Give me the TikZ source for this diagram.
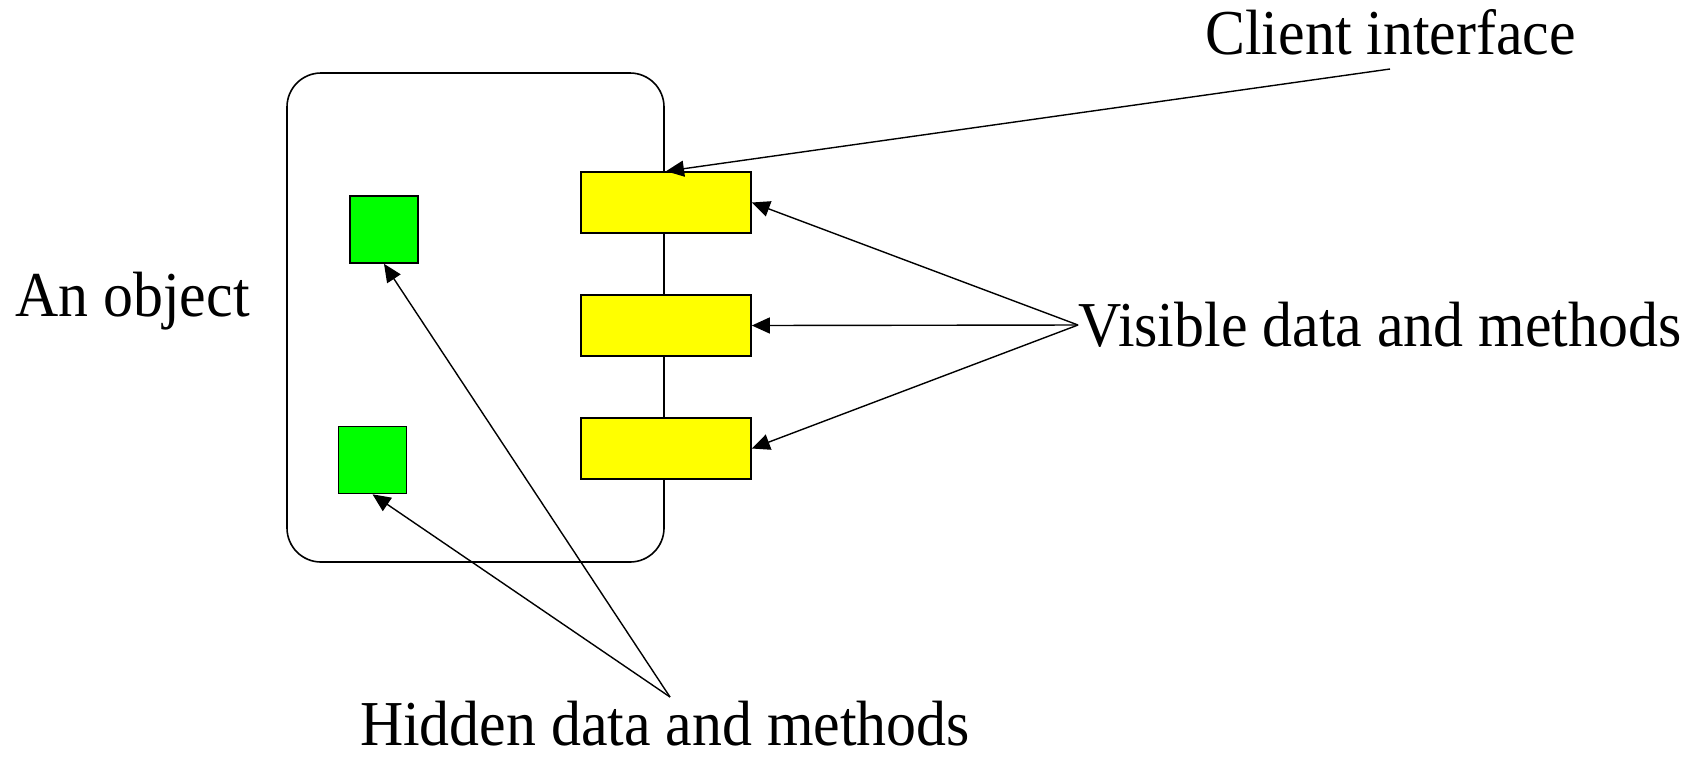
\documentclass[tikz,border=0pt]{standalone}
\usepackage{fontspec}
\setmainfont{Liberation Serif}
\newfontfamily\labelfont[FakeStretch=0.935]{Liberation Serif}
\usetikzlibrary{arrows.meta}
\definecolor{VisibleFill}{RGB}{255,255,0}
\definecolor{HiddenFill}{RGB}{0,255,0}
\tikzset{
    object box/.style={
        draw, rounded corners=17pt, line width=0.8pt, inner sep=0pt,
        minimum width=188.5pt, minimum height=244.5pt
    },
    hidden box/.style={
        draw, fill=HiddenFill, line width=0.8pt, inner sep=0pt,
        minimum width=34pt, minimum height=33.5pt
    },
    visible box/.style={
        draw, fill=VisibleFill, line width=0.8pt, inner sep=0pt,
        minimum width=85pt, minimum height=30.5pt
    },
    label text/.style={font=\labelfont\fontsize{32}{38}\selectfont, inner sep=0pt},
    pointer/.style={-{Triangle[length=9pt,width=8pt]}, line width=0.7pt},
}

\begin{document}
\begin{tikzpicture}[x=0.5pt, y=-0.5pt]

    \useasboundingbox (0,0) rectangle (1689,757);

    \node[object box] (obj) at (475.5,317.5) {};

    \node[hidden box] (g1) at (384,229.5) {};
    \node[hidden box] (g2) at (372.5,460) {};

    \node[visible box] (y1) at (666,202.5) {};
    \node[visible box] (y2) at (666,325.5) {};
    \node[visible box] (y3) at (666,448.5) {};

    \node[label text, anchor=base west] (objlabel) at (15,316) {An object};
    \node[label text, anchor=base west] (client) at (1205,54) {Client interface};
    \node[label text, anchor=west] (visible) at (1078,325) {Visible data and methods};
    \node[label text, anchor=base] (hidden) at (665,745) {Hidden data and methods};

    \coordinate (clienttail) at (1390,69);
    \coordinate (hiddentail) at (670,697);

    \draw[pointer] (clienttail) -- (y1.north);
    \foreach \b in {y1,y2,y3} {
        \draw[pointer] (visible.west) -- (\b.east);
    }
    \foreach \b in {g1,g2} {
        \draw[pointer] (hiddentail) -- (\b.south);
    }

\end{tikzpicture}
\end{document}
